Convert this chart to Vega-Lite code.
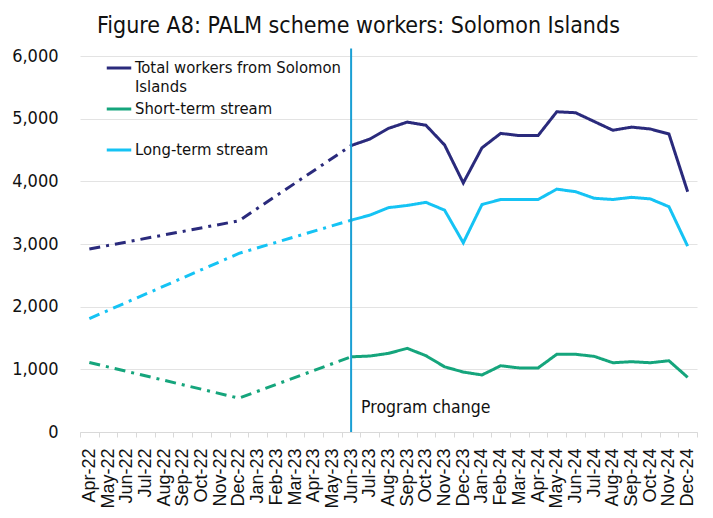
{
  "$schema": "https://vega.github.io/schema/vega-lite/v6.json",
  "width": 617,
  "height": 376,
  "autosize": {"type": "none"},
  "padding": {"left": 80, "top": 56, "right": 16, "bottom": 86},
  "background": "white",
  "title": {
    "text": "Figure A8: PALM scheme workers: Solomon Islands",
    "font": "DejaVu Sans Condensed",
    "fontSize": 23,
    "fontWeight": "normal",
    "color": "#111111",
    "anchor": "middle",
    "offset": 9,
    "dx": -30
  },
  "config": {
    "view": {"stroke": null},
    "font": "DejaVu Sans Condensed"
  },
  "layer": [
    {
      "data": {"values": [
        {"month": "Apr-22", "series": "Total workers from Solomon Islands", "phase": "pre", "value": 2920},
        {"month": "Dec-22", "series": "Total workers from Solomon Islands", "phase": "pre", "value": 3370},
        {"month": "Jun-23", "series": "Total workers from Solomon Islands", "phase": "pre", "value": 4570},
        {"month": "Apr-22", "series": "Long-term stream", "phase": "pre", "value": 1810},
        {"month": "Dec-22", "series": "Long-term stream", "phase": "pre", "value": 2850},
        {"month": "Jun-23", "series": "Long-term stream", "phase": "pre", "value": 3380},
        {"month": "Apr-22", "series": "Short-term stream", "phase": "pre", "value": 1110},
        {"month": "Dec-22", "series": "Short-term stream", "phase": "pre", "value": 540},
        {"month": "Jun-23", "series": "Short-term stream", "phase": "pre", "value": 1200},

        {"month": "Jun-23", "series": "Total workers from Solomon Islands", "phase": "post", "value": 4570},
        {"month": "Jul-23", "series": "Total workers from Solomon Islands", "phase": "post", "value": 4675},
        {"month": "Aug-23", "series": "Total workers from Solomon Islands", "phase": "post", "value": 4845},
        {"month": "Sep-23", "series": "Total workers from Solomon Islands", "phase": "post", "value": 4945},
        {"month": "Oct-23", "series": "Total workers from Solomon Islands", "phase": "post", "value": 4895},
        {"month": "Nov-23", "series": "Total workers from Solomon Islands", "phase": "post", "value": 4580},
        {"month": "Dec-23", "series": "Total workers from Solomon Islands", "phase": "post", "value": 3975},
        {"month": "Jan-24", "series": "Total workers from Solomon Islands", "phase": "post", "value": 4535},
        {"month": "Feb-24", "series": "Total workers from Solomon Islands", "phase": "post", "value": 4765},
        {"month": "Mar-24", "series": "Total workers from Solomon Islands", "phase": "post", "value": 4730},
        {"month": "Apr-24", "series": "Total workers from Solomon Islands", "phase": "post", "value": 4730},
        {"month": "May-24", "series": "Total workers from Solomon Islands", "phase": "post", "value": 5110},
        {"month": "Jun-24", "series": "Total workers from Solomon Islands", "phase": "post", "value": 5095},
        {"month": "Jul-24", "series": "Total workers from Solomon Islands", "phase": "post", "value": 4955},
        {"month": "Aug-24", "series": "Total workers from Solomon Islands", "phase": "post", "value": 4815},
        {"month": "Sep-24", "series": "Total workers from Solomon Islands", "phase": "post", "value": 4865},
        {"month": "Oct-24", "series": "Total workers from Solomon Islands", "phase": "post", "value": 4835},
        {"month": "Nov-24", "series": "Total workers from Solomon Islands", "phase": "post", "value": 4755},
        {"month": "Dec-24", "series": "Total workers from Solomon Islands", "phase": "post", "value": 3835},

        {"month": "Jun-23", "series": "Long-term stream", "phase": "post", "value": 3380},
        {"month": "Jul-23", "series": "Long-term stream", "phase": "post", "value": 3460},
        {"month": "Aug-23", "series": "Long-term stream", "phase": "post", "value": 3580},
        {"month": "Sep-23", "series": "Long-term stream", "phase": "post", "value": 3615},
        {"month": "Oct-23", "series": "Long-term stream", "phase": "post", "value": 3665},
        {"month": "Nov-23", "series": "Long-term stream", "phase": "post", "value": 3540},
        {"month": "Dec-23", "series": "Long-term stream", "phase": "post", "value": 3020},
        {"month": "Jan-24", "series": "Long-term stream", "phase": "post", "value": 3630},
        {"month": "Feb-24", "series": "Long-term stream", "phase": "post", "value": 3710},
        {"month": "Mar-24", "series": "Long-term stream", "phase": "post", "value": 3710},
        {"month": "Apr-24", "series": "Long-term stream", "phase": "post", "value": 3710},
        {"month": "May-24", "series": "Long-term stream", "phase": "post", "value": 3875},
        {"month": "Jun-24", "series": "Long-term stream", "phase": "post", "value": 3835},
        {"month": "Jul-24", "series": "Long-term stream", "phase": "post", "value": 3730},
        {"month": "Aug-24", "series": "Long-term stream", "phase": "post", "value": 3710},
        {"month": "Sep-24", "series": "Long-term stream", "phase": "post", "value": 3745},
        {"month": "Oct-24", "series": "Long-term stream", "phase": "post", "value": 3720},
        {"month": "Nov-24", "series": "Long-term stream", "phase": "post", "value": 3595},
        {"month": "Dec-24", "series": "Long-term stream", "phase": "post", "value": 2965},

        {"month": "Jun-23", "series": "Short-term stream", "phase": "post", "value": 1200},
        {"month": "Jul-23", "series": "Short-term stream", "phase": "post", "value": 1212},
        {"month": "Aug-23", "series": "Short-term stream", "phase": "post", "value": 1255},
        {"month": "Sep-23", "series": "Short-term stream", "phase": "post", "value": 1335},
        {"month": "Oct-23", "series": "Short-term stream", "phase": "post", "value": 1218},
        {"month": "Nov-23", "series": "Short-term stream", "phase": "post", "value": 1040},
        {"month": "Dec-23", "series": "Short-term stream", "phase": "post", "value": 957},
        {"month": "Jan-24", "series": "Short-term stream", "phase": "post", "value": 910},
        {"month": "Feb-24", "series": "Short-term stream", "phase": "post", "value": 1057},
        {"month": "Mar-24", "series": "Short-term stream", "phase": "post", "value": 1022},
        {"month": "Apr-24", "series": "Short-term stream", "phase": "post", "value": 1022},
        {"month": "May-24", "series": "Short-term stream", "phase": "post", "value": 1240},
        {"month": "Jun-24", "series": "Short-term stream", "phase": "post", "value": 1240},
        {"month": "Jul-24", "series": "Short-term stream", "phase": "post", "value": 1207},
        {"month": "Aug-24", "series": "Short-term stream", "phase": "post", "value": 1105},
        {"month": "Sep-24", "series": "Short-term stream", "phase": "post", "value": 1122},
        {"month": "Oct-24", "series": "Short-term stream", "phase": "post", "value": 1105},
        {"month": "Nov-24", "series": "Short-term stream", "phase": "post", "value": 1137},
        {"month": "Dec-24", "series": "Short-term stream", "phase": "post", "value": 872}
      ]},
      "mark": {"type": "line", "strokeWidth": 3},
      "encoding": {
        "x": {
          "field": "month",
          "type": "ordinal",
          "bandPosition": 0.5,
          "scale": {
            "type": "band",
            "paddingInner": 0,
            "paddingOuter": 0,
            "domain": ["Apr-22","May-22","Jun-22","Jul-22","Aug-22","Sep-22","Oct-22","Nov-22","Dec-22","Jan-23","Feb-23","Mar-23","Apr-23","May-23","Jun-23","Jul-23","Aug-23","Sep-23","Oct-23","Nov-23","Dec-23","Jan-24","Feb-24","Mar-24","Apr-24","May-24","Jun-24","Jul-24","Aug-24","Sep-24","Oct-24","Nov-24","Dec-24"]
          },
          "axis": {
            "title": null,
            "labelAngle": -90,
            "labelFont": "Liberation Sans",
            "labelFontSize": 18,
            "labelColor": "#111111",
            "labelPadding": 11,
            "domainColor": "#d9d9d9",
            "tickColor": "#d9d9d9",
            "tickBand": "extent",
            "tickSize": 5,
            "grid": false
          }
        },
        "y": {
          "field": "value",
          "type": "quantitative",
          "scale": {"domain": [0, 6000]},
          "axis": {
            "title": null,
            "values": [0, 1000, 2000, 3000, 4000, 5000, 6000],
            "format": ",d",
            "domain": false,
            "ticks": false,
            "labelPadding": 22,
            "labelFontSize": 18,
            "labelColor": "#111111",
            "gridColor": "#e3e3e3",
            "gridWidth": 1
          }
        },
        "color": {
          "field": "series",
          "type": "nominal",
          "scale": {
            "domain": ["Total workers from Solomon Islands", "Short-term stream", "Long-term stream"],
            "range": ["#2a2a7c", "#15a57c", "#15c3f4"]
          },
          "legend": {
            "title": null,
            "orient": "none",
            "legendX": 25,
            "legendY": -2,
            "padding": 0,
            "symbolType": "stroke",
            "symbolSize": 600,
            "symbolStrokeWidth": 3,
            "labelFontSize": 16.5,
            "labelColor": "#111111",
            "labelOffset": 2,
            "rowPadding": -3,
            "labelLimit": 300,
            "labelExpr": "datum.label == 'Total workers from Solomon Islands' ? [' Total workers from Solomon', 'Islands'] : [datum.label, ' ']"
          }
        },
        "strokeDash": {
          "field": "phase",
          "type": "nominal",
          "scale": {"domain": ["pre", "post"], "range": [[11, 6, 3, 6], [1, 0]]},
          "legend": null
        }
      }
    },
    {
      "data": {"values": [{"month": "Jun-23", "label": "Program change"}]},
      "layer": [
        {
          "mark": {"type": "rule", "color": "#1a9fd4", "strokeWidth": 2},
          "encoding": {
            "x": {"field": "month", "type": "ordinal", "bandPosition": 0.5},
            "y": {"datum": 0},
            "y2": {"datum": 6120}
          }
        },
        {
          "mark": {"type": "text", "align": "left", "baseline": "middle", "dx": 10, "fontSize": 17.5, "color": "#111111"},
          "encoding": {
            "x": {"field": "month", "type": "ordinal", "bandPosition": 0.5},
            "y": {"datum": 380},
            "text": {"field": "label"}
          }
        }
      ]
    }
  ]
}
